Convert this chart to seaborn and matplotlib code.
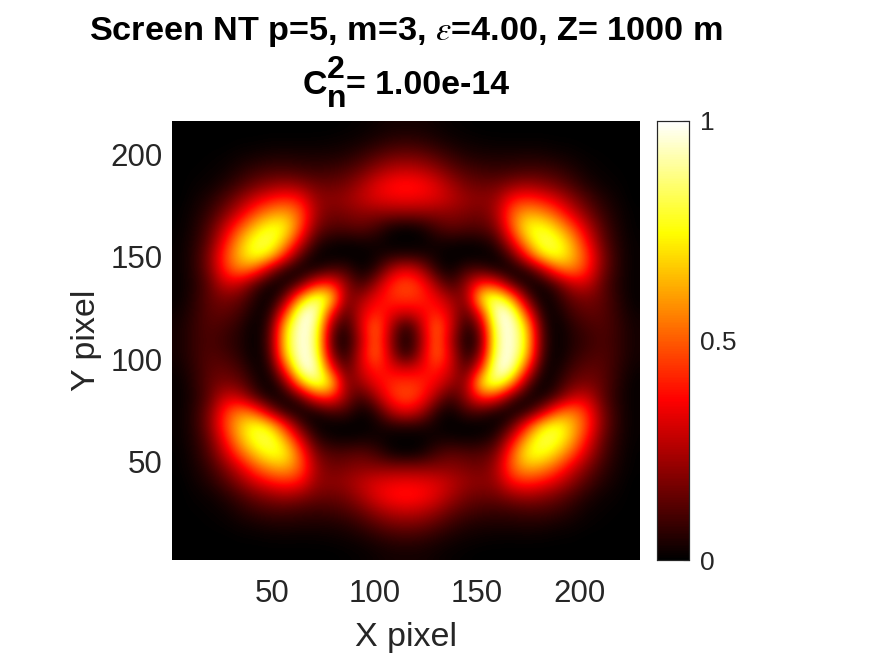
import numpy as np
import matplotlib
matplotlib.use('Agg')
import matplotlib.pyplot as plt
from matplotlib.colors import LinearSegmentedColormap
import seaborn as sns

# upper left quarter of the screen (top row first)
quarter = [
    [0, 0, 0, 0, 0, 0, 0, 0, 0, 0, 0, .005, .01, .02, .03, .03],
    [0, 0, 0, 0, .005, .005, .01, .01, .01, .01, .015, .02, .03, .05, .07, .08],
    [0, 0, .005, .01, .02, .03, .04, .045, .04, .04, .04, .05, .08, .12, .16, .17],
    [0, .005, .01, .02, .05, .08, .10, .10, .09, .08, .09, .11, .15, .22, .27, .29],
    [0, .01, .02, .05, .10, .16, .20, .23, .20, .16, .15, .17, .24, .32, .38, .40],
    [0, .02, .05, .11, .20, .30, .38, .42, .38, .22, .20, .22, .27, .32, .34, .35],
    [.005, .03, .08, .18, .31, .47, .58, .62, .50, .24, .16, .18, .20, .20, .20, .20],
    [.005, .04, .12, .28, .48, .66, .78, .76, .48, .18, .12, .12, .14, .10, .03, .01],
    [.01, .05, .15, .37, .62, .80, .84, .64, .32, .08, .03, .02, .03, .03, 0, 0],
    [.01, .06, .19, .45, .66, .80, .70, .40, .12, .01, 0, 0, 0, .02, .05, .05],
    [.01, .06, .18, .42, .56, .48, .22, .05, .01, .03, .10, .10, .01, .06, .25, .35],
    [.01, .05, .14, .30, .28, .12, .02, .02, .12, .38, .44, .22, .08, .22, .42, .48],
    [.01, .06, .14, .18, .15, .05, 0, .15, .60, .88, .76, .18, .22, .35, .42, .45],
    [.02, .07, .13, .14, .10, .02, .03, .42, .95, 1.0, .42, .10, .30, .42, .35, .30],
    [.03, .08, .12, .10, .06, 0, .08, .68, 1.0, .92, .20, .03, .30, .55, .25, .03],
    [.03, .08, .11, .08, .05, 0, .10, .72, 1.0, .90, .12, 0, .25, .55, .20, 0],
]
x_pixel_lim = (1.2, 229.5)
y_pixel_lim = (2.2, 216.3)
x_ticks = [50, 100, 150, 200]
y_ticks = [50, 100, 150, 200]
cbar_ticks = [0, 0.5, 1]
cbar_labels = ['0', '0.5', '1']

# screen is symmetric, so mirror the quarter
top = np.array(quarter)
top = np.hstack([top, top[:, -2::-1]])
screen = np.vstack([top, top[-2::-1]])

# same stops as hot but starting from pure black
hot_black = LinearSegmentedColormap.from_list(
    'hot_black', [(0, 'black'), (0.365, 'red'), (0.746, 'yellow'), (1, 'white')])

sns.set_theme(style='white')
plt.rcParams['font.family'] = ['Liberation Sans', 'DejaVu Sans']
plt.rcParams['mathtext.fontset'] = 'custom'
plt.rcParams['mathtext.it'] = 'STIXGeneral:italic'
plt.rcParams['mathtext.rm'] = 'STIXGeneral'

W, H = 875, 656
fig = plt.figure(figsize=(W / 100, H / 100), dpi=100)
ax = fig.add_axes([172 / W, 1 - 560 / H, 468 / W, 439 / H])
cax = fig.add_axes([657 / W, 1 - 560 / H, 32 / W, 439 / H])

sns.heatmap(screen, cmap=hot_black, vmin=0, vmax=1, ax=ax, cbar_ax=cax,
            xticklabels=False, yticklabels=False)

# smooth the cells the way the original image does
rows, cols = screen.shape
ax.imshow(screen, cmap=hot_black, vmin=0, vmax=1, interpolation='bicubic',
          origin='lower', aspect='auto', extent=(0, cols, 0, rows), zorder=3)
ax.set_xlim(0, cols)
ax.set_ylim(0, rows)
ax.set_xticks([(t - x_pixel_lim[0]) / (x_pixel_lim[1] - x_pixel_lim[0]) * cols for t in x_ticks])
ax.set_yticks([(t - y_pixel_lim[0]) / (y_pixel_lim[1] - y_pixel_lim[0]) * rows for t in y_ticks])
ax.set_xticklabels(x_ticks, rotation=0)
ax.set_yticklabels(y_ticks, rotation=0)
ax.tick_params(axis='x', length=0, labelsize=22.5, labelcolor='#262626', pad=14)
ax.tick_params(axis='y', length=0, labelsize=22.5, labelcolor='#262626', pad=7)
ax.set_xlabel('X pixel', fontsize=24.5, color='#262626', labelpad=9)
ax.set_ylabel('Y pixel', fontsize=24.5, color='#262626', labelpad=6)

cax.set_yticks(cbar_ticks)
cax.set_yticklabels(cbar_labels)
cax.tick_params(axis='y', length=4, direction='in', width=0.8, color='#262626',
                labelsize=19, labelcolor='#262626', pad=8, right=True, left=False)
for side in cax.spines.values():
    side.set_visible(True)
    side.set_linewidth(0.8)
    side.set_color('#262626')

title_kw = dict(fontweight='bold', color='black', va='baseline')
fig.text(406 / W, 1 - 40 / H, r'Screen NT p=5, m=3, $\epsilon$=4.00, Z= 1000 m',
         ha='center', fontsize=24.7, **title_kw)
fig.text(303 / W, 1 - 94 / H, 'C', ha='left', fontsize=24.5, **title_kw)
fig.text(327 / W, 1 - 78 / H, '2', ha='left', fontsize=23, **title_kw)
fig.text(327 / W, 1 - 107 / H, 'n', ha='left', fontsize=23, **title_kw)
fig.text(346 / W, 1 - 94 / H, '= 1.00e-14', ha='left', fontsize=24.4, **title_kw)

fig.savefig('out.png', dpi=100)
